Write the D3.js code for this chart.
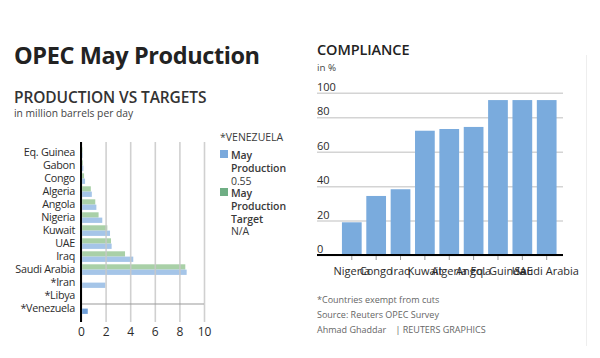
<!DOCTYPE html>
<html><head><meta charset="utf-8">
<script src="https://cdn.jsdelivr.net/npm/d3@7"></script>
<style>
body{margin:0;background:#fff;}
svg{display:block;font-family:"Open Sans",sans-serif;}
</style></head>
<body>
<svg id="c" width="600" height="358"></svg>
<script>
// ---- Data: production vs targets (million bpd)
const countries = ["Eq. Guinea","Gabon","Congo","Algeria","Angola","Nigeria","Kuwait","UAE","Iraq","Saudi Arabia","*Iran","*Libya","*Venezuela"];
const productionMay = [0.13,0.19,0.33,0.88,1.25,1.73,2.36,2.49,4.25,8.59,1.98,0.08,0.55];
const productionTarget = [0.12,0.15,0.25,0.80,1.16,1.43,2.14,2.44,3.58,8.48,null,null,null];
const xTicks = [0,2,4,6,8,10];

// ---- Data: compliance (%)
const complianceCountries = ["Nigeria","Congo","Iraq","Kuwait","Algeria","Angola","Eq. Guinea","UAE","Saudi Arabia"];
const complianceValues = [19,34.3,38.2,72.2,73.2,74.4,94,94,94];
const yTicks = [0,20,40,60,80,100];

const svg = d3.select("#c");
const dark = "#2b2b2b";

// faint right panel border
svg.append("line").attr("x1",586.5).attr("x2",586.5).attr("y1",55).attr("y2",346)
  .attr("stroke","#eeeeee").attr("stroke-width",1);

// ---- Titles left
svg.append("text").attr("x",14).attr("y",64).text("OPEC May Production")
  .attr("font-size",23.5).attr("font-weight",700).attr("fill","#222").attr("letter-spacing",-0.4);
svg.append("text").attr("x",14).attr("y",103).text("PRODUCTION VS TARGETS")
  .attr("font-size",15.5).attr("font-weight",600).attr("fill","#333").attr("letter-spacing",-0.1);
svg.append("text").attr("x",14).attr("y",117).text("in million barrels per day")
  .attr("font-size",10.3).attr("fill","#444");

// ---- Left chart
const x = d3.scaleLinear().domain([0,10]).range([81,204]);
const y = d3.scaleBand().domain(countries).range([146.5,315.5]);
const sub = d3.scaleBand().domain(["target","production"]).range([0.8,11.4]);

const gL = svg.append("g");
countries.forEach((c,i)=>{
  if(productionTarget[i]!=null){
    gL.append("rect").attr("x",x(0)).attr("y",y(c)+sub("target"))
      .attr("width",x(productionTarget[i])-x(0)).attr("height",sub.bandwidth())
      .attr("fill","#a9d0a7");
  }
  const isVen = c==="*Venezuela";
  gL.append("rect").attr("x",x(0)).attr("y",y(c)+sub("production"))
    .attr("width",x(productionMay[i])-x(0)).attr("height",sub.bandwidth())
    .attr("fill",isVen?"#6f9fd8":"#a5c5e8");
});
const xAxis = d3.axisBottom(x).tickValues(xTicks).tickSize(-180).tickPadding(5);
const ax = gL.append("g").attr("transform","translate(0,322)").call(xAxis);
ax.select(".domain").remove();
ax.selectAll(".tick line").attr("stroke","#c8c8c8").attr("stroke-width",1.6).attr("stroke-opacity",0.85);
ax.selectAll(".tick text").attr("font-size",12).attr("fill",dark).attr("font-family","Open Sans");
gL.append("line").attr("x1",x(0)).attr("x2",x(10)).attr("y1",304).attr("y2",304)
  .attr("stroke","#999").attr("stroke-width",1);
gL.append("line").attr("x1",x(0)).attr("x2",x(0)).attr("y1",142).attr("y2",322)
  .attr("stroke","#000").attr("stroke-width",2);
const yAxis = d3.axisLeft(y).tickSize(0).tickPadding(6);
const ay = gL.append("g").attr("transform",`translate(${x(0)},0)`).call(yAxis);
ay.select(".domain").remove();
ay.selectAll(".tick text").attr("font-size",10.8).attr("letter-spacing",-0.3).attr("fill",dark).attr("font-family","Open Sans");

// ---- Legend
const lg = svg.append("g").attr("font-size",10.5).attr("fill","#3a3a3a");
lg.append("text").attr("x",220).attr("y",141).text("*VENEZUELA").attr("font-size",10.5);
lg.append("rect").attr("x",220).attr("y",150).attr("width",8).attr("height",8).attr("fill","#7aa9dc");
[["May",159,600],["Production",172,600],["0.55",185,400]].forEach(d=>
  lg.append("text").attr("x",231).attr("y",d[1]).text(d[0]).attr("font-weight",d[2]).attr("letter-spacing",-0.1));
lg.append("rect").attr("x",220).attr("y",188).attr("width",8).attr("height",8).attr("fill","#6fae84");
[["May",197,600],["Production",210,600],["Target",223,600],["N/A",235,400]].forEach(d=>
  lg.append("text").attr("x",231).attr("y",d[1]).text(d[0]).attr("font-weight",d[2]).attr("letter-spacing",-0.1));

// ---- Right chart
svg.append("text").attr("x",317).attr("y",55).text("COMPLIANCE")
  .attr("font-size",14.5).attr("font-weight",600).attr("fill","#222").attr("letter-spacing",-0.1);
svg.append("text").attr("x",317).attr("y",71).text("in %")
  .attr("font-size",9.8).attr("fill","#444");

const yR = d3.scaleLinear().domain([0,80,100]).range([255,117.3,92.7]);
const xR = d3.scaleBand().domain(complianceCountries).range([339.5,559]).paddingInner(0.19).paddingOuter(0.1);
const gR = svg.append("g");
const ayR = gR.append("g").attr("transform","translate(317,0)")
  .call(d3.axisRight(yR).tickValues(yTicks).tickSize(246).tickPadding(0));
ayR.select(".domain").remove();
ayR.selectAll(".tick line").attr("stroke","#d4d4d4").attr("stroke-width",1.5);
ayR.selectAll(".tick text").attr("x",0).attr("dy",-2.5).attr("text-anchor","start")
  .attr("font-size",11).attr("fill",dark).attr("font-family","Open Sans");
gR.selectAll("rect.bar").data(complianceCountries).join("rect").attr("class","bar")
  .attr("x",d=>xR(d)).attr("width",xR.bandwidth())
  .attr("y",(d,i)=>yR(complianceValues[i])).attr("height",(d,i)=>yR(0)-yR(complianceValues[i]))
  .attr("fill","#7aabdd");
const axR = gR.append("g").attr("transform","translate(0,255)")
  .call(d3.axisBottom(xR).tickSize(5).tickPadding(7));
axR.select(".domain").remove();
axR.selectAll(".tick line").attr("stroke","#999");
axR.selectAll(".tick text").attr("font-size",11).attr("fill",dark).attr("font-family","Open Sans");
gR.append("line").attr("x1",317).attr("x2",563).attr("y1",255).attr("y2",255)
  .attr("stroke","#000").attr("stroke-width",2);

// ---- Footnotes
const fn = svg.append("g").attr("font-size",9).attr("fill","#666");
fn.append("text").attr("x",317).attr("y",303).text("*Countries exempt from cuts");
fn.append("text").attr("x",317).attr("y",318).text("Source: Reuters OPEC Survey");
fn.append("text").attr("x",317).attr("y",333).text("Ahmad Ghaddar    | REUTERS GRAPHICS").style("white-space","pre");
</script>
</body></html>
